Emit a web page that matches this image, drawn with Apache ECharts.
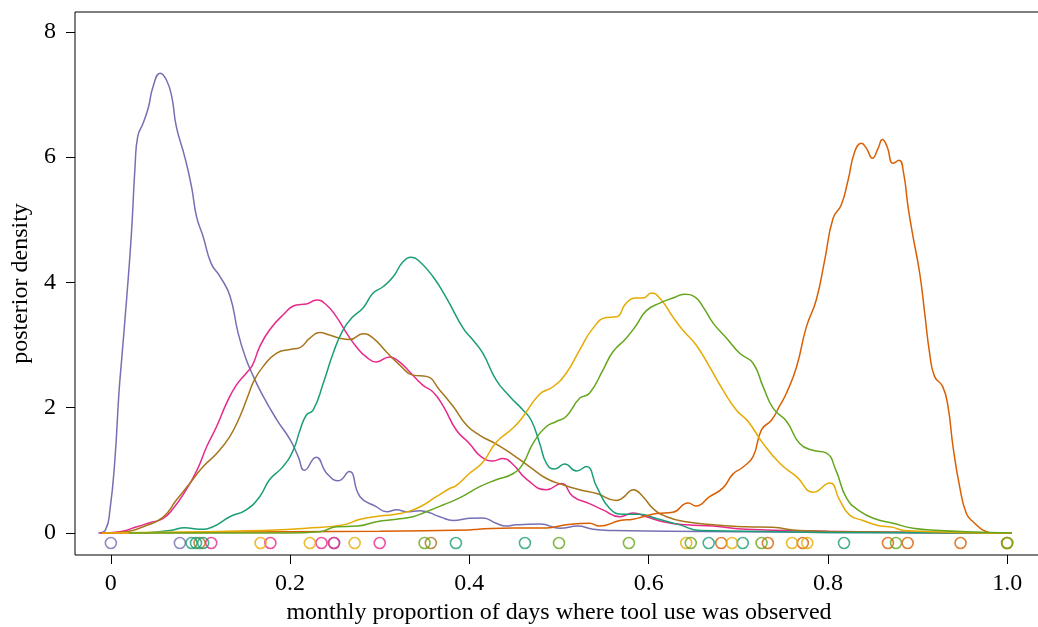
<!DOCTYPE html>
<html>
<head>
<meta charset="utf-8">
<title>posterior density</title>
<script src="https://cdn.jsdelivr.net/npm/echarts@6/dist/echarts.min.js"></script>
<style>
    html, body { margin: 0; padding: 0; background: #fff; }
    #chart { width: 1038px; height: 627px; }
</style>
</head>
<body>
<div id="chart"></div>
<script>
// tick labels
const xTicks = [0, 0.2, 0.4, 0.6, 0.8, 1.0];
const yTicks = [0, 2, 4, 6, 8];

// posterior density curves, [proportion, density]
const purpleDensity = [[-0.014,0],[-0.006,0.05],[-0.001,0.37],[0.0045,1.17],[0.009,2.23],[0.012,2.76],[0.0175,3.72],[0.023,4.79],[0.027,5.85],[0.030,6.33],[0.036,6.54],[0.042,6.80],[0.047,7.12],[0.055,7.34],[0.062,7.23],[0.068,6.96],[0.073,6.49],[0.0825,6.0],[0.090,5.53],[0.0956,5.05],[0.103,4.73],[0.112,4.30],[0.122,4.09],[0.133,3.78],[0.142,3.19],[0.150,2.81],[0.159,2.50],[0.170,2.18],[0.185,1.81],[0.200,1.49],[0.209,1.22],[0.216,1.00],[0.229,1.21],[0.241,0.95],[0.254,0.835],[0.266,0.98],[0.278,0.58],[0.296,0.42],[0.308,0.34],[0.319,0.37],[0.330,0.34],[0.345,0.356],[0.367,0.26],[0.382,0.20],[0.400,0.234],[0.415,0.24],[0.430,0.155],[0.441,0.11],[0.452,0.13],[0.479,0.143],[0.501,0.075],[0.521,0.11],[0.538,0.06],[0.56,0.04],[0.62,0.03],[0.7,0.02],[0.8,0.01],[0.9,0.005],[1.005,0]];
const pinkDensity = [[-0.012,0],[0.01,0.02],[0.029,0.10],[0.0435,0.165],[0.058,0.23],[0.0695,0.39],[0.084,0.69],[0.096,1.0],[0.107,1.38],[0.118,1.70],[0.130,2.10],[0.140,2.36],[0.151,2.55],[0.158,2.68],[0.166,2.97],[0.177,3.24],[0.192,3.48],[0.207,3.64],[0.218,3.655],[0.2295,3.72],[0.2406,3.64],[0.2517,3.45],[0.263,3.19],[0.274,2.97],[0.285,2.81],[0.296,2.73],[0.311,2.81],[0.322,2.73],[0.3335,2.57],[0.348,2.36],[0.3595,2.25],[0.371,2.02],[0.3856,1.64],[0.40,1.43],[0.413,1.22],[0.4265,1.15],[0.4376,1.19],[0.449,1.09],[0.4637,0.86],[0.486,0.69],[0.5027,0.79],[0.5157,0.58],[0.534,0.47],[0.549,0.37],[0.568,0.26],[0.5826,0.32],[0.5975,0.26],[0.616,0.18],[0.642,0.13],[0.672,0.11],[0.709,0.06],[0.8,0.03],[0.9,0.01],[1.005,0]];
const brownDensity = [[-0.005,0],[0.0175,0.02],[0.036,0.10],[0.058,0.25],[0.0733,0.53],[0.088,0.79],[0.103,1.06],[0.118,1.27],[0.1327,1.54],[0.144,1.86],[0.152,2.15],[0.160,2.44],[0.170,2.66],[0.185,2.87],[0.200,2.93],[0.211,2.96],[0.222,3.11],[0.233,3.20],[0.244,3.16],[0.2554,3.11],[0.2666,3.09],[0.2814,3.18],[0.2926,3.11],[0.3075,2.89],[0.3224,2.68],[0.337,2.52],[0.352,2.50],[0.367,2.28],[0.382,2.02],[0.397,1.72],[0.4116,1.56],[0.430,1.42],[0.449,1.245],[0.467,1.06],[0.486,0.87],[0.5045,0.77],[0.523,0.69],[0.542,0.63],[0.564,0.52],[0.571,0.56],[0.583,0.69],[0.5937,0.58],[0.605,0.39],[0.62,0.26],[0.642,0.18],[0.672,0.13],[0.709,0.10],[0.738,0.09],[0.768,0.04],[0.85,0.015],[1.005,0]];
const tealDensity = [[0.036,0],[0.066,0.04],[0.0825,0.085],[0.099,0.06],[0.114,0.10],[0.1327,0.26],[0.151,0.37],[0.166,0.58],[0.177,0.85],[0.192,1.06],[0.2034,1.32],[0.211,1.64],[0.218,1.88],[0.2257,1.96],[0.237,2.39],[0.248,2.87],[0.259,3.24],[0.270,3.45],[0.2814,3.59],[0.2926,3.83],[0.3037,3.93],[0.315,4.09],[0.326,4.33],[0.3354,4.40],[0.3447,4.33],[0.3595,4.09],[0.3745,3.75],[0.393,3.27],[0.404,3.08],[0.415,2.87],[0.430,2.44],[0.445,2.18],[0.46,1.96],[0.469,1.80],[0.4785,1.43],[0.486,1.11],[0.495,1.02],[0.5064,1.10],[0.5195,0.99],[0.5306,1.06],[0.542,0.74],[0.5566,0.39],[0.5715,0.30],[0.590,0.30],[0.6087,0.23],[0.6347,0.13],[0.657,0.04],[0.71,0.03],[0.8,0.01],[1.005,0]];
const yellowDensity = [[-0.01,0],[0.1,0.02],[0.166,0.04],[0.218,0.075],[0.259,0.13],[0.278,0.22],[0.3,0.27],[0.3224,0.31],[0.345,0.42],[0.363,0.58],[0.378,0.71],[0.3856,0.76],[0.40,0.95],[0.415,1.13],[0.430,1.45],[0.449,1.68],[0.46,1.86],[0.4785,2.22],[0.493,2.33],[0.508,2.55],[0.523,2.92],[0.538,3.27],[0.553,3.44],[0.564,3.45],[0.575,3.67],[0.5864,3.75],[0.594,3.75],[0.603,3.83],[0.614,3.72],[0.627,3.45],[0.638,3.24],[0.653,3.0],[0.668,2.65],[0.683,2.28],[0.698,1.96],[0.711,1.78],[0.7276,1.43],[0.7466,1.11],[0.765,0.90],[0.784,0.65],[0.802,0.80],[0.813,0.53],[0.824,0.29],[0.839,0.20],[0.856,0.12],[0.8727,0.09],[0.885,0.04],[0.95,0.01],[1.005,0]];
const greenDensity = [[0.02,0],[0.196,0.0],[0.233,0.02],[0.2517,0.10],[0.275,0.11],[0.2964,0.18],[0.3187,0.22],[0.337,0.26],[0.352,0.34],[0.371,0.45],[0.389,0.56],[0.4116,0.74],[0.43,0.85],[0.449,0.95],[0.46,1.11],[0.471,1.43],[0.486,1.70],[0.497,1.78],[0.508,1.86],[0.523,2.15],[0.534,2.23],[0.549,2.60],[0.560,2.89],[0.575,3.11],[0.5864,3.32],[0.5975,3.55],[0.6124,3.67],[0.627,3.75],[0.640,3.81],[0.6514,3.77],[0.6607,3.61],[0.672,3.35],[0.687,3.11],[0.7016,2.87],[0.7165,2.71],[0.7276,2.34],[0.739,1.99],[0.754,1.78],[0.7685,1.43],[0.783,1.32],[0.798,1.28],[0.809,1.0],[0.8207,0.56],[0.8355,0.35],[0.854,0.22],[0.8727,0.155],[0.895,0.075],[0.925,0.04],[0.955,0.02],[1.005,0]];
const orangeDensity = [[-0.01,0],[0.1,0.01],[0.2,0.02],[0.3,0.03],[0.4,0.05],[0.41,0.06],[0.449,0.08],[0.486,0.08],[0.508,0.13],[0.534,0.155],[0.545,0.11],[0.568,0.20],[0.5826,0.22],[0.594,0.26],[0.6087,0.31],[0.627,0.33],[0.644,0.48],[0.653,0.43],[0.668,0.58],[0.683,0.72],[0.694,0.94],[0.705,1.05],[0.7165,1.22],[0.726,1.65],[0.737,1.80],[0.7466,2.04],[0.7537,2.23],[0.765,2.65],[0.776,3.29],[0.787,3.72],[0.7965,4.36],[0.8057,5.02],[0.815,5.24],[0.8225,5.63],[0.830,6.09],[0.8373,6.22],[0.843,6.14],[0.8496,5.98],[0.856,6.14],[0.8608,6.28],[0.866,6.17],[0.8727,5.90],[0.8794,5.95],[0.8845,5.74],[0.8894,5.21],[0.895,4.73],[0.9024,4.15],[0.908,3.51],[0.9135,2.87],[0.919,2.50],[0.928,2.34],[0.934,2.02],[0.9396,1.38],[0.947,0.74],[0.9545,0.31],[0.962,0.18],[0.9768,0.02],[0.985,0],[1.005,0]];

// observed monthly proportions (rug of circles)
const purpleObs = [0, 0.077, 0.249];
const tealObs = [0.090, 0.095, 0.103, 0.385, 0.462, 0.667, 0.705, 0.818];
const brownObs = [0.099, 0.357];
const pinkObs = [0.112, 0.178, 0.235, 0.249, 0.300];
const yellowObs = [0.167, 0.222, 0.272, 0.642, 0.693, 0.760, 0.777, 1.0];
const greenObs = [0.350, 0.500, 0.578, 0.647, 0.726, 0.876, 1.0];
const orangeObs = [0.681, 0.733, 0.772, 0.867, 0.889, 0.948, 1.0];
const obsLevel = -0.16;

const font = "'Liberation Serif', 'DejaVu Serif', serif";

const groups = [
    {name: 'purple', color: '#7570B3', density: purpleDensity, obs: purpleObs},
    {name: 'pink',   color: '#E7298A', density: pinkDensity,   obs: pinkObs},
    {name: 'brown',  color: '#A6761D', density: brownDensity,  obs: brownObs},
    {name: 'teal',   color: '#1B9E77', density: tealDensity,   obs: tealObs},
    {name: 'orange', color: '#D95F02', density: orangeDensity, obs: orangeObs},
    {name: 'yellow', color: '#E6AB02', density: yellowDensity, obs: yellowObs},
    {name: 'green',  color: '#66A61E', density: greenDensity,  obs: greenObs}
];

let series = [];
groups.forEach(function (g) {
    series.push({
        name: g.name,
        type: 'line',
        data: g.density,
        smooth: 0.5,
        showSymbol: false,
        lineStyle: {color: g.color, width: 1.5},
        z: 2
    });
});
// circles drawn after the curves, green last so it sits on top at 1.0
groups.forEach(function (g) {
    series.push({
        name: g.name + ' obs',
        type: 'scatter',
        data: g.obs.map(function (v) { return [v, obsLevel]; }),
        symbol: 'circle',
        symbolSize: 11,
        itemStyle: {color: 'rgba(0,0,0,0)', borderColor: g.color, borderWidth: 1.6},
        z: 3
    });
});

const chart = echarts.init(document.getElementById('chart'));
chart.setOption({
    animation: false,
    backgroundColor: '#fff',
    grid: {
        left: 75, top: 12, right: -5, bottom: 72,
        outerBoundsMode: 'none',
        show: true, borderColor: '#000', borderWidth: 1,
        backgroundColor: 'transparent'
    },
    xAxis: {
        type: 'value',
        min: -0.04,
        max: 1.04,
        axisLine: {show: false, onZero: false},
        splitLine: {show: false},
        axisTick: {show: true, length: 9, customValues: xTicks, lineStyle: {color: '#000'}},
        axisLabel: {
            customValues: xTicks,
            margin: 17,
            color: '#000',
            fontFamily: font,
            fontSize: 24,
            formatter: function (v) { return v === 0 ? '0' : v.toFixed(1); }
        },
        name: 'monthly proportion of days where tool use was observed',
        nameLocation: 'middle',
        nameGap: 38,
        nameTextStyle: {color: '#000', fontFamily: font, fontSize: 24}
    },
    yAxis: {
        type: 'value',
        min: -0.351,
        max: 8.316,
        axisLine: {show: false, onZero: false},
        splitLine: {show: false},
        axisTick: {show: true, length: 9, customValues: yTicks, lineStyle: {color: '#000'}},
        axisLabel: {
            customValues: yTicks,
            margin: 19,
            color: '#000',
            fontFamily: font,
            fontSize: 24
        },
        name: 'posterior density',
        nameLocation: 'middle',
        nameRotate: 90,
        nameGap: 40,
        nameTextStyle: {color: '#000', fontFamily: font, fontSize: 24}
    },
    series: series
});
</script>
</body>
</html>
